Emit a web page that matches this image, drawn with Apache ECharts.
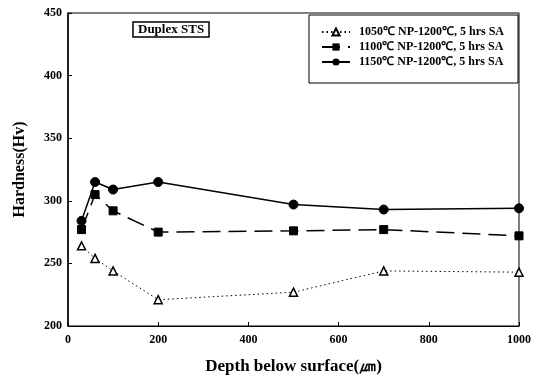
<!DOCTYPE html>
<html>
<head>
<meta charset="utf-8">
<script src="https://cdn.jsdelivr.net/npm/echarts@6/dist/echarts.min.js"></script>
<style>
  html, body { margin: 0; padding: 0; background: #fff; }
  #chart { width: 534px; height: 380px; }
</style>
</head>
<body>
<div id="chart"></div>
<script>
// Hardness profile of duplex stainless steel after nitriding
const depth = [30, 60, 100, 200, 500, 700, 1000];
const h1050 = [264, 254, 244, 221, 227, 244, 243];
const h1100 = [277, 305, 292, 275, 276, 277, 272];
const h1150 = [284, 315, 309, 315, 297, 293, 294];
const seriesNames = [
  '1050\u2103 NP-1200\u2103, 5 hrs SA',
  '1100\u2103 NP-1200\u2103, 5 hrs SA',
  '1150\u2103 NP-1200\u2103, 5 hrs SA'
];

const serif = '"Liberation Serif", "Times New Roman", serif';
const pairs = ys => depth.map((d, i) => [d, ys[i]]);

const chart = echarts.init(document.getElementById('chart'), null, { renderer: 'canvas' });
chart.setOption({
  animation: false,
  backgroundColor: '#fff',
  title: {
    text: 'Duplex STS',
    left: 133, top: 22,
    padding: [1, 5, 1, 5],
    borderColor: '#000', borderWidth: 1.5,
    textStyle: { fontFamily: serif, fontWeight: 'bold', fontSize: 13, color: '#000' }
  },
  legend: {
    orient: 'vertical',
    right: 16, top: 15,
    padding: [11, 14, 15, 12],
    itemGap: 3,
    itemWidth: 28, itemHeight: 9,
    borderColor: '#000', borderWidth: 1,
    backgroundColor: '#fff',
    textStyle: { fontFamily: serif, fontWeight: 'bold', fontSize: 12, color: '#000', padding: [0, 0, 0, 4] },
    data: seriesNames
  },
  grid: {
    left: 68, right: 15, top: 13, bottom: 53,
    show: true, borderColor: '#000', borderWidth: 1
  },
  xAxis: {
    type: 'value', min: 0, max: 1000, interval: 200,
    name: 'Depth below surface(\u339B)',
    nameLocation: 'middle', nameGap: 32,
    nameTextStyle: { fontFamily: serif, fontWeight: 'bold', fontSize: 17, color: '#000' },
    axisLine: { lineStyle: { color: '#000', width: 1 } },
    axisTick: { inside: true, length: 4, lineStyle: { color: '#000' } },
    axisLabel: { fontFamily: serif, fontWeight: 'bold', fontSize: 12, color: '#000', margin: 8,
                 formatter: v => String(v) },
    splitLine: { show: false }
  },
  yAxis: {
    type: 'value', min: 200, max: 450, interval: 50,
    name: 'Hardness(Hv)',
    nameLocation: 'middle', nameGap: 40,
    nameTextStyle: { fontFamily: serif, fontWeight: 'bold', fontSize: 16, color: '#000' },
    axisLine: { show: true, lineStyle: { color: '#000', width: 1.5 } },
    axisTick: { show: true, inside: true, length: 4, lineStyle: { color: '#000' } },
    axisLabel: { fontFamily: serif, fontWeight: 'bold', fontSize: 12, color: '#000', margin: 6 },
    splitLine: { show: false }
  },
  series: [
    {
      name: seriesNames[0], type: 'line', data: pairs(h1050),
      symbol: 'triangle', symbolSize: 8,
      itemStyle: { color: '#fff', borderColor: '#000', borderWidth: 1.5 },
      lineStyle: { color: '#000', width: 1, type: [1.5, 3] }
    },
    {
      name: seriesNames[1], type: 'line', data: pairs(h1100),
      symbol: 'rect', symbolSize: 8,
      itemStyle: { color: '#000', borderColor: '#000' },
      lineStyle: { color: '#000', width: 1.5, type: [18, 8] }
    },
    {
      name: seriesNames[2], type: 'line', data: pairs(h1150),
      symbol: 'circle', symbolSize: 9,
      itemStyle: { color: '#000', borderColor: '#000' },
      lineStyle: { color: '#000', width: 1.5 }
    }
  ]
});
</script>
</body>
</html>
